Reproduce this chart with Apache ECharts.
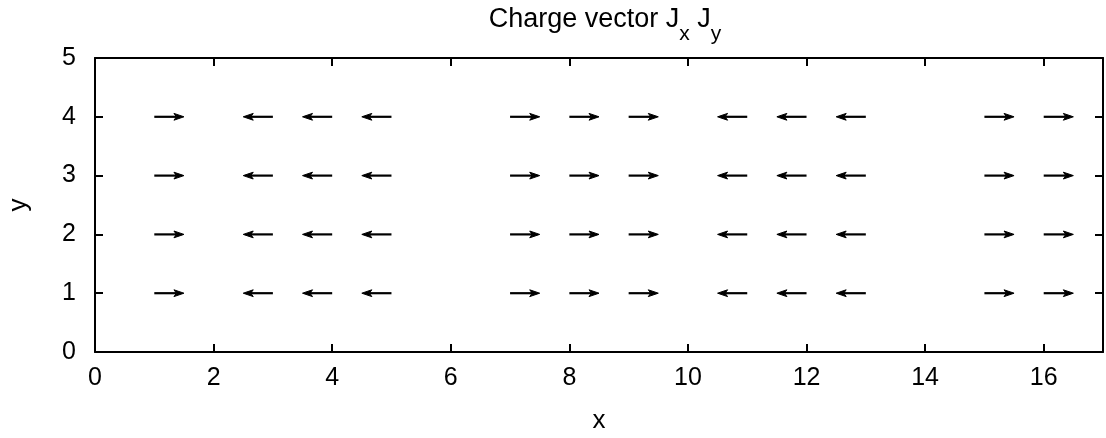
<!DOCTYPE html>
<html>
<head>
<meta charset="utf-8">
<script src="https://cdn.jsdelivr.net/npm/echarts@6/dist/echarts.min.js"></script>
<style>
  html, body { margin: 0; padding: 0; background: #fff; }
  #chart { width: 1106px; height: 438px; }
</style>
</head>
<body>
<div id="chart"></div>
<script>
// Grid of sample points (x columns, y rows)
const gridX = [1, 2, 3, 4, 5, 6, 7, 8, 9, 10, 11, 12, 13, 14, 15, 16];
const gridY = [1, 2, 3, 4];
// Current components per column (identical for every row)
const jxByColumn = [0.5, 0, -0.5, -0.5, -0.5, 0, 0.5, 0.5, 0.5, 0, -0.5, -0.5, -0.5, 0, 0.5, 0.5];
const jyByColumn = [0, 0, 0, 0, 0, 0, 0, 0, 0, 0, 0, 0, 0, 0, 0, 0];
// Axis ticks
const xTicks = [0, 2, 4, 6, 8, 10, 12, 14, 16];
const yTicks = [0, 1, 2, 3, 4, 5];

const vectors = [];
gridY.forEach(function (y) {
  gridX.forEach(function (x, i) {
    vectors.push([x, y, jxByColumn[i], jyByColumn[i]]);
  });
});

const FONT = '"Liberation Sans", Arial, sans-serif';
const FS = 25;

function renderArrow(params, api) {
  const x = api.value(0), y = api.value(1), dx = api.value(2), dy = api.value(3);
  if (dx === 0 && dy === 0) return null;
  const p0 = api.coord([x, y]);
  const p1 = api.coord([x + dx, y + dy]);
  const ang = Math.atan2(p1[1] - p0[1], p1[0] - p0[0]);
  const c = Math.cos(ang), s = Math.sin(ang);
  const headLen = 10, headW = 3.4;
  const bx = p1[0] - headLen * c, by = p1[1] - headLen * s;
  const nx = bx + 2.5 * c, ny = by + 2.5 * s;
  return {
    type: 'group',
    children: [
      { type: 'line', shape: { x1: p0[0], y1: p0[1], x2: nx, y2: ny },
        style: { stroke: '#000', lineWidth: 2.2 } },
      { type: 'polygon',
        shape: { points: [
          [p1[0], p1[1]],
          [bx - headW * s, by + headW * c],
          [nx, ny],
          [bx + headW * s, by - headW * c]
        ] },
        style: { fill: '#000', stroke: '#000', lineWidth: 1 } }
    ]
  };
}

function axisCommon(pos) {
  return {
    min: 0,
    position: pos,
    axisLine: { show: true, onZero: false, lineStyle: { color: '#000', width: 2 } },
    axisTick: { show: true, inside: true, length: 8, lineStyle: { color: '#000', width: 2 } },
    splitLine: { show: false },
    axisLabel: { show: false }
  };
}

const chart = echarts.init(document.getElementById('chart'), null, { renderer: 'canvas' });
chart.setOption({
  animation: false,
  backgroundColor: '#fff',
  title: {
    text: '{m|Charge vector J}{s|x}{m| J}{s|y}',
    left: 600, top: -11, textAlign: 'center',
    textStyle: {
      color: '#000', fontFamily: FONT, fontSize: 27, fontWeight: 'normal',
      rich: {
        m: { fontFamily: FONT, fontSize: 27, color: '#000' },
        s: { fontFamily: FONT, fontSize: 21, color: '#000', padding: [30, 0, 0, 0] }
      }
    }
  },
  grid: { left: 95, right: 3, top: 58, bottom: 86, containLabel: false, outerBoundsMode: 'none' },
  xAxis: [
    Object.assign(axisCommon('bottom'), {
      type: 'value', max: 17, interval: 2,
      name: 'x', nameLocation: 'middle', nameGap: 56,
      nameTextStyle: { color: '#000', fontFamily: FONT, fontSize: 26 },
      axisLabel: { show: true, color: '#000', fontFamily: FONT, fontSize: FS, margin: 14,
        showMaxLabel: false,
        formatter: function (v) { return xTicks.indexOf(v) >= 0 ? String(v) : ''; } }
    }),
    Object.assign(axisCommon('top'), { type: 'value', max: 17, interval: 2 })
  ],
  yAxis: [
    Object.assign(axisCommon('left'), {
      type: 'value', max: 5, interval: 1,
      name: 'y', nameLocation: 'middle', nameGap: 63, nameRotate: 90,
      nameTextStyle: { color: '#000', fontFamily: FONT, fontSize: 26 },
      axisLabel: { show: true, color: '#000', fontFamily: FONT, fontSize: FS, margin: 19,
        formatter: function (v) { return yTicks.indexOf(v) >= 0 ? String(v) : ''; } }
    }),
    Object.assign(axisCommon('right'), { type: 'value', max: 5, interval: 1 })
  ],
  series: [{
    type: 'custom',
    renderItem: renderArrow,
    data: vectors,
    encode: { x: 0, y: 1 },
    clip: false,
    silent: true
  }]
});
</script>
</body>
</html>
